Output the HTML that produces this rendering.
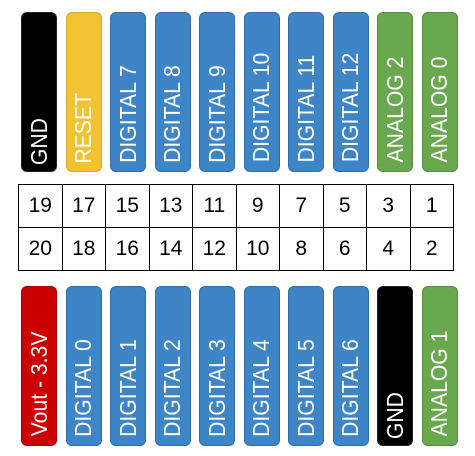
<!DOCTYPE html>
<html><head><meta charset="utf-8"><style>
body{margin:0;width:475px;height:456px;background:#fff;position:relative;overflow:hidden;font-family:"Liberation Sans",sans-serif}
.pin{position:absolute;width:36px;height:160px;border-radius:6px;box-sizing:border-box;display:flex;justify-content:center;align-items:flex-end;padding-bottom:4px}
.pin span{writing-mode:vertical-rl;transform:rotate(180deg) scaleY(0.92);color:#fff;font-size:23px;white-space:nowrap}
.blk{background:#000;border:1px solid #222}
.yel{background:#f1c232;border:1px solid #d4a82a}
.blu{background:#3d85c6;border:1px solid #2f6ea8}
.grn{background:#6aa84f;border:1px solid #568c3f}
.red{background:#cc0000;border:1px solid #aa0000}
table{position:absolute;left:18px;top:184px;border-collapse:collapse}
td{border:1px solid #000;width:43.5px;height:43px;padding:0;text-align:center;font-size:21px;color:#000;box-sizing:border-box}
</style></head><body>
<table>
<tr><td>19</td><td>17</td><td>15</td><td>13</td><td>11</td><td>9</td><td>7</td><td>5</td><td>3</td><td>1</td></tr>
<tr><td>20</td><td>18</td><td>16</td><td>14</td><td>12</td><td>10</td><td>8</td><td>6</td><td>4</td><td>2</td></tr>
</table>
<script>
const topLabels=["GND","RESET","DIGITAL 7","DIGITAL 8","DIGITAL 9","DIGITAL 10","DIGITAL 11","DIGITAL 12","ANALOG 2","ANALOG 0"];
const topColors=["blk","yel","blu","blu","blu","blu","blu","blu","grn","grn"];
const botLabels=["Vout - 3.3V","DIGITAL 0","DIGITAL 1","DIGITAL 2","DIGITAL 3","DIGITAL 4","DIGITAL 5","DIGITAL 6","GND","ANALOG 1"];
const botColors=["red","blu","blu","blu","blu","blu","blu","blu","blk","grn"];
function make(labels,colors,y,row){
  labels.forEach((t,i)=>{
    const d=document.createElement('div');
    d.className='pin '+colors[i];
    d.style.left=(21+i*44.5)+'px';d.style.top=y+'px';
    
    
    const s=document.createElement('span');s.textContent=t;d.appendChild(s);
    document.body.appendChild(d);
  });
}
make(topLabels,topColors,12,'top');
make(botLabels,botColors,286,'bottom');
</script>
</body></html>
